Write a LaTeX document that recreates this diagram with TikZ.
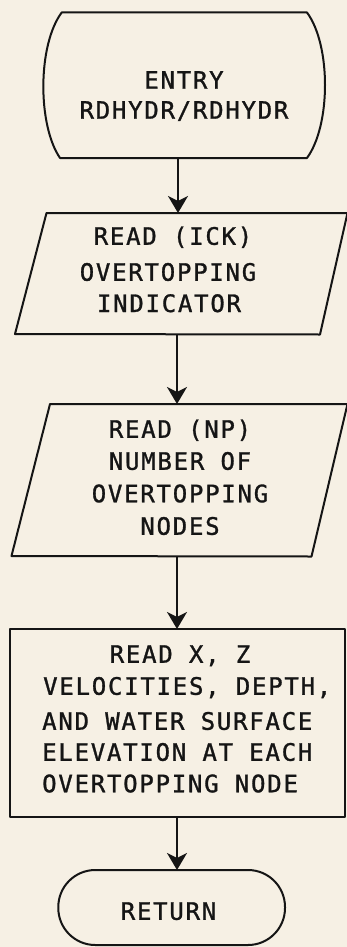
\documentclass[tikz,border=0pt]{standalone}
\usepackage{fontspec}
\newfontfamily\flowfont[LetterSpace=7.3,FakeBold=1.2]{DejaVu Sans Mono}
\usetikzlibrary{arrows.meta}
\definecolor{paper}{HTML}{F6F0E4}
\definecolor{ink}{HTML}{151515}
\tikzset{
  shapeline/.style={draw=ink, line width=2pt, line join=round},
  txt/.style={inner sep=0pt, text=ink, font=\flowfont\fontsize{24}{32}\selectfont},
  arr/.style={draw=ink, line width=2pt, -{Stealth[length=17pt,width=20pt,inset=5pt]}}
}
\begin{document}
\begin{tikzpicture}[x=1pt,y=-1pt]
\fill[paper] (0,0) rectangle (347,947);
\useasboundingbox (0,0) rectangle (347,947);
% entry terminal
\draw[shapeline] (61.7,12.5) -- (307,12.5) .. controls (331,45) and (331,125) .. (307,158)
  -- (60,158) .. controls (37.5,125) and (37.5,45) .. (61.7,12.5) -- cycle;
\node[txt, anchor=base] (e1) at (184,88.75) {ENTRY};
\node[txt, anchor=base] (e2) at (184,118.75) {RDHYDR/RDHYDR};
\coordinate (eB) at (178,158);
% read ICK
\draw[shapeline] (46.5,213) -- (347.5,213) -- (320,334.5) -- (15,334) -- cycle;
\node[txt, anchor=base] (a1) at (173,244.75) {READ (ICK)};
\node[txt, anchor=base] (a2) at (168,280.75) {OVERTOPPING};
\node[txt, anchor=base] (a3) at (169,312) {INDICATOR};
\coordinate (aT) at (178,213);
\coordinate (aB) at (177,334.3);
% read NP
\draw[shapeline] (50,404) -- (347.5,404) -- (311.5,556.5) -- (11.5,556) -- cycle;
\node[txt, anchor=base] (b1) at (180,437.75) {READ (NP)};
\node[txt, anchor=base] (b2) at (180,469.75) {NUMBER OF};
\node[txt, anchor=base] (b3) at (180,502.25) {OVERTOPPING};
\node[txt, anchor=base] (b4) at (180,534.75) {NODES};
\coordinate (bT) at (177,404);
\coordinate (bB) at (177,556.3);
% read X Z
\draw[shapeline] (9.5,629) rectangle (345,816.7);
\node[txt, anchor=base] (c1) at (180,662.75) {READ X, Z};
\node[txt, anchor=base west] (c2) at (43,694.75) {VELOCITIES, DEPTH,};
\node[txt, anchor=base west] (c3) at (42,729.75) {AND WATER SURFACE};
\node[txt, anchor=base west] (c4) at (42,760.75) {ELEVATION AT EACH};
\node[txt, anchor=base west] (c5) at (42,792.25) {OVERTOPPING NODE};
\coordinate (cT) at (177,629);
\coordinate (cB) at (177,816.7);
% return terminal
\draw[shapeline, rounded corners=37pt] (58.3,870) rectangle (285,945);
\node[txt, anchor=base] (r1) at (168.5,919.75) {RETURN};
\coordinate (rT) at (177,870);
% connectors
\draw[arr] (eB) -- (aT);
\draw[arr] (aB) -- (bT);
\draw[arr] (bB) -- (cT);
\draw[arr] (cB) -- (rT);
\end{tikzpicture}
\end{document}
